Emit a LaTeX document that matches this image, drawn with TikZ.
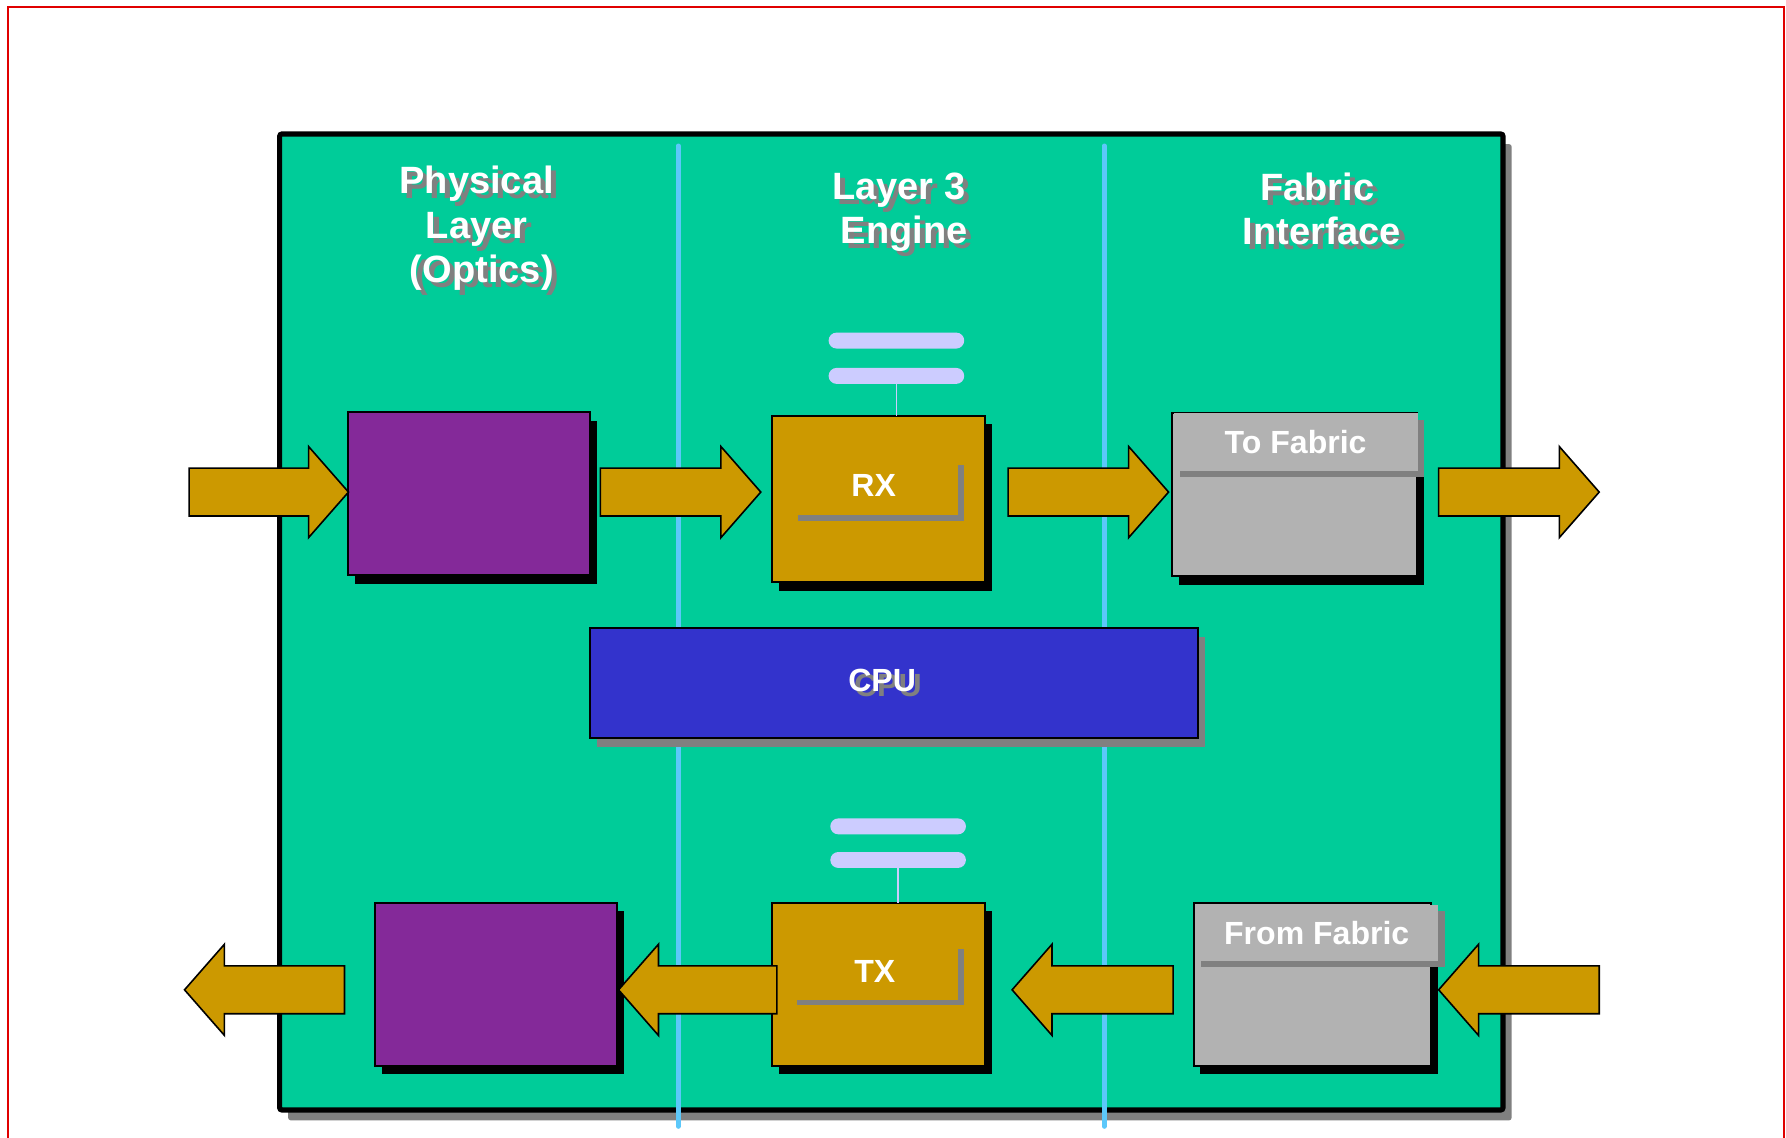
\documentclass[tikz,border=0pt]{standalone}
\usepackage{fontspec}
\setmainfont{Liberation Sans}
\usetikzlibrary{calc,shadows}

\definecolor{boardgreen}{RGB}{0,204,153}
\definecolor{gold}{RGB}{204,153,0}
\definecolor{optic}{RGB}{132,41,153}
\definecolor{cpublue}{RGB}{51,51,204}
\definecolor{panelgray}{RGB}{178,178,178}
\definecolor{shadegray}{RGB}{128,128,128}
\definecolor{lavender}{RGB}{204,204,255}
\definecolor{divider}{RGB}{92,200,250}
\definecolor{framered}{RGB}{224,0,0}

% fat block arrow from tail #1 to tip #2 (horizontal)
\newcommand\blockarrow[2]{%
  \draw[fatarrow] ($(#1)+(0,21)$) -- ($(#2)!0.35cm!(#1)+(0,21)$)
    -- ($(#2)!0.35cm!(#1)+(0,40)$) -- (#2)
    -- ($(#2)!0.35cm!(#1)+(0,-40)$) -- ($(#2)!0.35cm!(#1)+(0,-21)$)
    -- ($(#1)+(0,-21)$) -- cycle;}

\begin{document}
\begin{tikzpicture}[x=0.01cm,y=-0.01cm,
  boardbox/.style={draw=black, fill=boardgreen, line width=0.045cm,
    rounded corners=0.02cm, inner sep=0, outer sep=0,
    general shadow={fill=shadegray, shadow xshift=0.075cm, shadow yshift=-0.09cm}},
  unitbox/.style={draw=black, line width=0.5pt, inner sep=0, outer sep=0,
    general shadow={fill=black, shadow xshift=0.06cm, shadow yshift=-0.075cm}},
  cpubox/.style={unitbox, fill=cpublue,
    general shadow={fill=shadegray, shadow xshift=0.06cm, shadow yshift=-0.075cm}},
  headerbar/.style={fill=panelgray, inner sep=0, outer sep=0, text=white,
    font=\fontsize{8}{9.6}\selectfont\bfseries,
    general shadow={fill=shadegray, shadow xshift=0.055cm, shadow yshift=-0.055cm}},
  antbar/.style={fill=lavender, rounded corners=0.07cm, inner sep=0, outer sep=0,
    minimum width=1.19cm, minimum height=0.14cm},
  antline/.style={draw=lavender, line width=0.015cm},
  lmark/.style={draw=shadegray, line width=0.05cm},
  lbl/.style={text=white, font=\fontsize{8}{9.6}\selectfont\bfseries, inner sep=0},
  lblshade/.style={lbl, text=shadegray},
  headtxt/.style={text=white, font=\fontsize{9.5}{11.1}\selectfont\bfseries,
    align=center, inner sep=0, anchor=north},
  headshade/.style={headtxt, text=shadegray},
  fatarrow/.style={fill=gold, draw=black, line width=0.4pt, line join=miter},
  sepline/.style={draw=divider, line width=0.04cm, line cap=round}]

\useasboundingbox (0,0) rectangle (1568,999);

% outer frame (open at the bottom)
\draw[framered, line width=0.6pt] (7,1010) -- (7,6) -- (1566,6) -- (1566,1010);

% line card
\node[boardbox, minimum width=10.734cm, minimum height=8.564cm] (board) at (782.55,546.05) {};

% column dividers
\draw[sepline] (595.5,128) -- (595.5,989);
\draw[sepline] (969.5,128) -- (969.5,989);

% column headings
\node[headshade] (physS) at (423,149.5) {Physical\\Layer\\\hspace*{0.09cm}(Optics)};
\node[headtxt]   (phys)  at (418.5,145) {Physical\\Layer\\\hspace*{0.09cm}(Optics)};
\node[headshade] (l3S)   at (793.5,155.2) {Layer 3\\\hspace*{0.1cm}Engine};
\node[headtxt]   (l3)    at (789,150.7)   {Layer 3\\\hspace*{0.1cm}Engine};
\node[headshade] (fabS)  at (1161,155.2) {Fabric\\\hspace*{0.08cm}Interface};
\node[headtxt]   (fab)   at (1156.5,150.7) {Fabric\\\hspace*{0.08cm}Interface};

% buffer memories above the engines
\node[antbar] (rxbar1) at (787,299) {};
\node[antbar] (rxbar2) at (787,330) {};
\node[antbar] (txbar1) at (788.5,725.5) {};
\node[antbar] (txbar2) at (788.5,755) {};

% receive path blocks
\node[unitbox, fill=optic, minimum width=2.12cm, minimum height=1.43cm] (phy1) at (412,433.5) {};
\node[unitbox, fill=gold, minimum width=1.87cm, minimum height=1.46cm] (rx) at (771.5,438) {};
\node[unitbox, fill=panelgray, minimum width=2.15cm, minimum height=1.431cm] (tofab) at (1136.5,434.15) {};

% CPU
\node[cpubox, minimum width=5.34cm, minimum height=0.965cm] (cpu) at (785,599.75) {};

% transmit path blocks
\node[unitbox, fill=optic, minimum width=2.125cm, minimum height=1.431cm] (phy2) at (435.25,864.05) {};
\node[unitbox, fill=gold, minimum width=1.874cm, minimum height=1.431cm] (tx) at (771.3,864.05) {};
\node[unitbox, fill=panelgray, minimum width=2.08cm, minimum height=1.431cm] (fromfab) at (1152,864.05) {};

% memory taps
\draw[antline] (rxbar2.south) -- (rxbar2.south |- rx.north);
\draw[antline] (txbar2.south) -- (txbar2.south |- tx.north);

% engine markings and labels
\draw[lmark] (701,454.5) -- (843.5,454.5) -- (843.5,408);
\draw[lmark] (700,880) -- (843.7,880) -- (843.7,833);
\node[lbl] (rxlbl) at (767,426) {RX};
\node[lbl] (txlbl) at (768,853) {TX};
\node[lblshade] (cpulblS) at (779.5,601.5) {CPU};
\node[lbl] (cpulbl) at (774.5,597) {CPU};

% fabric interface title bars
\node[headerbar, minimum width=2.14cm, minimum height=0.505cm] (tofabhead) at (1137.5,388.25) {To Fabric};
\node[headerbar, minimum width=2.135cm, minimum height=0.491cm] (fromfabhead) at (1156,819.15) {From Fabric};

% data flow arrows
\coordinate (inL) at (166,432);
\coordinate (outR) at (1404,432);
\coordinate (inR) at (1404,869);
\coordinate (outL) at (162,869);

\coordinate (a1e) at (phy1.west |- inL);
\coordinate (a2s) at ([xshift=0.09cm]phy1.east |- inL);
\coordinate (a2e) at ([xshift=-0.1cm]rx.west |- inL);
\coordinate (a3s) at ([xshift=0.2cm]rx.east |- inL);
\coordinate (a3e) at ([xshift=-0.03cm]tofab.west |- inL);
\coordinate (a4s) at ([xshift=0.19cm]tofab.east |- inL);

\coordinate (a8e) at ([xshift=0.07cm]fromfab.east |- inR);
\coordinate (a7s) at ([xshift=-0.18cm]fromfab.west |- inR);
\coordinate (a7e) at ([xshift=0.235cm]tx.east |- inR);
\coordinate (a6s) at ([xshift=0.045cm]tx.west |- inR);
\coordinate (a6e) at ([xshift=0.015cm]phy2.east |- inR);
\coordinate (a5s) at ([xshift=-0.265cm]phy2.west |- inR);

\blockarrow{inL}{a1e}
\blockarrow{a2s}{a2e}
\blockarrow{a3s}{a3e}
\blockarrow{a4s}{outR}
\blockarrow{inR}{a8e}
\blockarrow{a7s}{a7e}
\blockarrow{a6s}{a6e}
\blockarrow{a5s}{outL}

\end{tikzpicture}
\end{document}
